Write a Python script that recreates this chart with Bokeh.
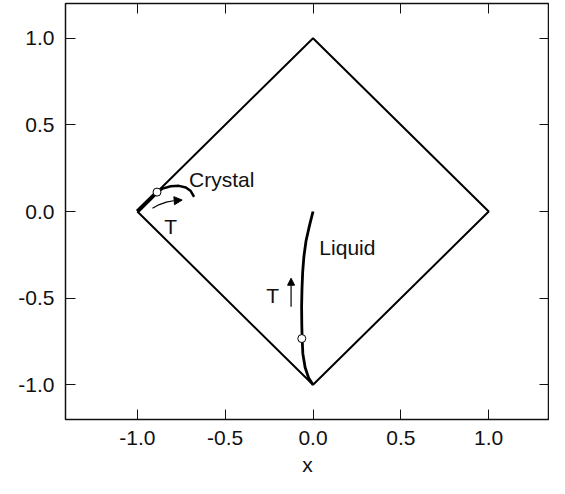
from bokeh.plotting import figure
from bokeh.models import Range1d, FixedTicker, LinearAxis, NumeralTickFormatter, Arrow, NormalHead, Label
from bokeh.embed import file_html
from bokeh.resources import INLINE

# ---- data ----
tick_values = [-1.0, -0.5, 0.0, 0.5, 1.0]
diamond_x = [-1.0, 0.0, 1.0, 0.0, -1.0]
diamond_y = [0.0, 1.0, 0.0, -1.0, 0.0]

crystal_edge_x = [-1.0, -0.888]
crystal_edge_y = [0.0, 0.112]
crystal_curve_x = [-0.888, -0.857, -0.810, -0.763, -0.724, -0.696, -0.677]
crystal_curve_y = [0.112, 0.132, 0.146, 0.148, 0.138, 0.118, 0.085]
crystal_point_x = [-0.888]
crystal_point_y = [0.112]
crystal_arrow_x = [-0.914, -0.875, -0.835, -0.795, -0.745]
crystal_arrow_y = [0.019, 0.040, 0.054, 0.062, 0.066]

liquid_x = [0.0, -0.02, -0.04, -0.052, -0.059, -0.063, -0.065, -0.064, -0.062, -0.058, -0.045, -0.025, 0.0]
liquid_y = [0.0, -0.08, -0.17, -0.26, -0.35, -0.45, -0.55, -0.65, -0.733, -0.82, -0.90, -0.96, -1.0]
liquid_point_x = [-0.064]
liquid_point_y = [-0.733]
liquid_arrow_x = [-0.125, -0.125]
liquid_arrow_y = [-0.549, -0.385]

FONT = "Liberation Sans"

p = figure(width=549, height=478, output_backend="svg", toolbar_location=None,
           x_range=Range1d(-1.409, 1.346), y_range=Range1d(-1.2, 1.2),
           min_border_left=65, min_border_right=0, min_border_top=3, min_border_bottom=51,
           x_axis_label="x")
p.grid.visible = False
p.outline_line_color = "#111111"
p.outline_line_width = 1.5
p.background_fill_color = "white"
p.border_fill_color = "white"

# extra axes for inner ticks on top and right
p.add_layout(LinearAxis(), "above")
p.add_layout(LinearAxis(), "right")

for ax in p.axis:
    ax.ticker = FixedTicker(ticks=tick_values)
    ax.formatter = NumeralTickFormatter(format="0.0")
    ax.axis_line_color = None
    ax.major_tick_in = 10
    ax.major_tick_out = 0
    ax.major_tick_line_color = "#111111"
    ax.major_tick_line_width = 1
    ax.minor_tick_line_color = None
    ax.major_label_text_font = FONT
    ax.major_label_text_font_size = "21px"
    ax.major_label_text_color = "#111111"
    ax.major_label_standoff = 11
    ax.axis_label_text_font = FONT
    ax.axis_label_text_font_size = "21px"
    ax.axis_label_text_font_style = "normal"
    ax.axis_label_text_color = "#111111"

p.xaxis[0].major_label_standoff = 8
p.xaxis[0].axis_label_standoff = 0

for ax in p.above + p.right:
    ax.major_label_text_font_size = "0px"
    ax.major_label_text_color = None
    ax.major_label_standoff = 0

# diamond
p.line(diamond_x, diamond_y, line_color="black", line_width=2)

# crystal path
p.line(crystal_edge_x, crystal_edge_y, line_color="black", line_width=4)
p.line(crystal_curve_x, crystal_curve_y, line_color="black", line_width=2.5)
p.line(crystal_arrow_x[:-1], crystal_arrow_y[:-1], line_color="black", line_width=1.2)
p.add_layout(Arrow(end=NormalHead(size=8, fill_color="black", line_color="black", line_width=1),
                   x_start=crystal_arrow_x[-2], y_start=crystal_arrow_y[-2],
                   x_end=crystal_arrow_x[-1], y_end=crystal_arrow_y[-1],
                   line_color="black", line_width=1.2))
p.scatter(crystal_point_x, crystal_point_y, size=8, fill_color="white", line_color="black", line_width=1)

# liquid path
p.line(liquid_x, liquid_y, line_color="black", line_width=2.8)
p.add_layout(Arrow(end=NormalHead(size=7, fill_color="black", line_color="black", line_width=1),
                   x_start=liquid_arrow_x[0], y_start=liquid_arrow_y[0],
                   x_end=liquid_arrow_x[1], y_end=liquid_arrow_y[1],
                   line_color="black", line_width=1.2))
p.scatter(liquid_point_x, liquid_point_y, size=8, fill_color="white", line_color="black", line_width=1)

def lab(x, y, t, align="left", baseline="middle"):
    p.add_layout(Label(x=x, y=y, text=t, text_font=FONT, text_font_size="21px",
                       text_color="#111111", text_align=align, text_baseline=baseline))

lab(-0.706, 0.182, "Crystal")
lab(-0.81, -0.085, "T", "center")
lab(0.036, -0.208, "Liquid")
lab(-0.23, -0.483, "T", "center")

open("out.html", "w").write(file_html(p, INLINE))
